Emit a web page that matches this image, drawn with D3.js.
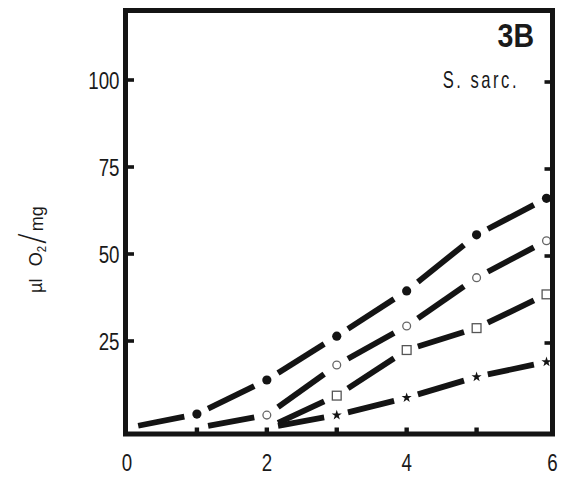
<!DOCTYPE html>
<html><head><meta charset="utf-8">
<script src="https://cdn.jsdelivr.net/npm/d3@7"></script>
<style>
html,body{margin:0;padding:0;background:#fff;}
svg{display:block;}
text{font-family:"Liberation Sans",Arial,sans-serif;fill:#1a1a1a;}
</style></head>
<body><svg id="c" width="566" height="477"></svg>
<script>
const hours = [0, 1, 2, 3, 4, 5, 6];
const filledCircle = [0, 4.0, 13.8, 26.4, 39.4, 55.5, 66.0];
const openCircle   = [null, 0, 3.7, 18.1, 29.3, 43.2, 53.8];
const openSquare   = [null, null, 0, 9.3, 22.4, 28.7, 38.4];
const star         = [null, null, 0, 3.7, 8.7, 14.7, 19.0];
const yTicks = [25, 50, 75, 100];
const xTickMarks = [1, 2, 3, 4, 5];
const xTickLabels = [0, 2, 4, 6];
const panelLabel = "3B";
const speciesLabel = "S. sarc.";

const svg = d3.select("#c");
const x = d3.scaleLinear().domain([0, 6]).range([127, 546.5]);
const y = d3.scaleLinear().domain([0, 100]).range([428, 80]);
const frame = {l: 125.5, r: 552.5, t: 10.5, b: 434};
const ink = "#141414";
const narrow = 0.78;

const series = [
  {vals: filledCircle, kind: "filled"},
  {vals: openCircle, kind: "circle"},
  {vals: openSquare, kind: "square"},
  {vals: star, kind: "star"}
];

const g = svg.append("g");
series.forEach(s => {
  const pts = hours.map((h, i) => ({h, v: s.vals[i]})).filter(d => d.v !== null);
  for (let i = 0; i < pts.length - 1; i++) {
    const x1 = x(pts[i].h), y1 = y(pts[i].v), x2 = x(pts[i+1].h), y2 = y(pts[i+1].v);
    const f1 = 0.16, f2 = 0.18;
    g.append("line")
      .attr("x1", x1 + (x2 - x1) * f1).attr("y1", y1 + (y2 - y1) * f1)
      .attr("x2", x2 - (x2 - x1) * f2).attr("y2", y2 - (y2 - y1) * f2)
      .attr("stroke", ink).attr("stroke-width", 5.8).attr("stroke-linecap", "butt");
  }
  const mk = pts.filter(d => d.v > 0);
  if (s.kind === "filled") {
    g.selectAll(null).data(mk).enter().append("circle")
      .attr("cx", d => x(d.h)).attr("cy", d => y(d.v)).attr("r", 4.6).attr("fill", ink);
  } else if (s.kind === "circle") {
    g.selectAll(null).data(mk).enter().append("circle")
      .attr("cx", d => x(d.h)).attr("cy", d => y(d.v)).attr("r", 3.9)
      .attr("fill", "#fff").attr("stroke", "#666").attr("stroke-width", 1.3);
  } else if (s.kind === "square") {
    g.selectAll(null).data(mk).enter().append("rect")
      .attr("x", d => x(d.h) - 4.4).attr("y", d => y(d.v) - 4.4).attr("width", 8.8).attr("height", 8.8)
      .attr("fill", "#fff").attr("stroke", "#555").attr("stroke-width", 1.3);
  } else {
    g.selectAll(null).data(mk).enter().append("path")
      .attr("transform", d => `translate(${x(d.h)},${y(d.v)})`)
      .attr("d", d3.symbol().type(d3.symbolStar).size(32)).attr("fill", ink);
  }
});

// frame
svg.append("rect").attr("x", frame.l).attr("y", frame.t)
  .attr("width", frame.r - frame.l).attr("height", frame.b - frame.t)
  .attr("fill", "none").attr("stroke", ink).attr("stroke-width", 5);

// inward tick marks (left, right, bottom)
const tk = svg.append("g").attr("fill", ink);
tk.selectAll(null).data(yTicks).enter().append("rect")
  .attr("x", frame.l).attr("y", d => y(d) - 1.8).attr("width", 8.5).attr("height", 3.6);
tk.selectAll(null).data(yTicks).enter().append("rect")
  .attr("x", frame.r - 8).attr("y", d => y(d) - 1.8 + 2).attr("width", 8).attr("height", 3.6);
tk.selectAll(null).data(xTickMarks).enter().append("rect")
  .attr("x", d => x(d) - 2.2).attr("y", frame.b - 6.5).attr("width", 4.4).attr("height", 6.5);

// left labels (condensed)
svg.append("g").selectAll("text").data(yTicks).enter().append("text")
  .attr("transform", d => `translate(${frame.l - 6},${y(d) + 8.5}) scale(${narrow},1)`)
  .attr("text-anchor", "end").attr("font-size", 24).text(d => d3.format("d")(d));

// bottom labels
svg.append("g").selectAll("text").data(xTickLabels).enter().append("text")
  .attr("transform", d => `translate(${x(d) + (d === 6 ? 6 : 0)},${frame.b + 37}) scale(${narrow},1)`)
  .attr("text-anchor", "middle").attr("font-size", 24).text(d => d3.format("d")(d));

// panel labels
svg.append("text").attr("transform", "translate(534,47) scale(0.84,1)")
  .attr("text-anchor", "end").attr("font-size", 34).attr("font-weight", "bold").text(panelLabel);
svg.append("text").attr("transform", "translate(519,88) scale(0.72,1)")
  .attr("text-anchor", "end").attr("font-size", 23).attr("letter-spacing", 3.5).text(speciesLabel);

// y axis title (reads bottom to top)
const yt = svg.append("text").attr("transform", "translate(42,293) rotate(-90) scale(0.95,1)")
  .attr("text-anchor", "start").attr("font-size", 19);
yt.append("tspan").text("µl");
yt.append("tspan").attr("dx", 13).text("O");
yt.append("tspan").attr("font-size", 12).attr("dy", 4).text("2");
yt.append("tspan").attr("font-family", "DejaVu Sans").attr("font-weight", 200)
  .attr("font-size", 34).attr("dy", -3).attr("dx", 2).text("/");
yt.append("tspan").attr("font-size", 19).attr("dx", 2).text("mg");
</script></body></html>
